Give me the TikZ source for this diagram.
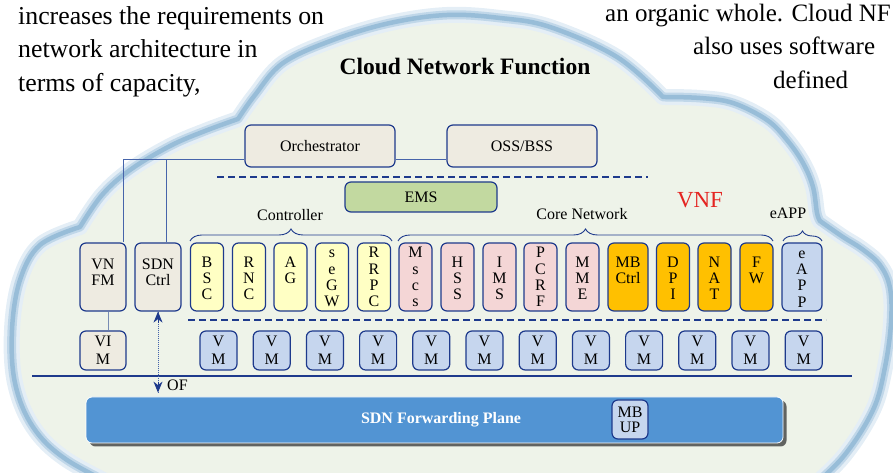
\documentclass[tikz,border=0pt]{standalone}
\usepackage{fontspec}
\setmainfont{Liberation Serif}
\usetikzlibrary{decorations.pathreplacing,shadows,arrows.meta,calc}

\definecolor{navy}{RGB}{30,58,140}
\definecolor{linkblue}{RGB}{70,100,170}
\definecolor{vimlink}{RGB}{120,140,180}
\definecolor{cloudfill}{RGB}{238,243,233}
\definecolor{glowA}{RGB}{228,238,246}
\definecolor{glowB}{RGB}{192,215,233}
\definecolor{glowC}{RGB}{152,189,216}
\definecolor{beige}{RGB}{238,235,225}
\definecolor{lyellow}{RGB}{255,255,196}
\definecolor{lpink}{RGB}{244,214,214}
\definecolor{orangeF}{RGB}{255,192,0}
\definecolor{lblue}{RGB}{198,214,238}
\definecolor{emsgreen}{RGB}{194,217,160}
\definecolor{fwdblue}{RGB}{82,148,211}
\definecolor{vnfred}{RGB}{228,36,33}

% one function box with its stacked label: name, x, width, fill, label drop, text
\newcommand\fnbox[6]{%
  \node[vbox, minimum width=#3, fill=#4] (#1) at (#2,196) {};
  \node[btext, anchor=north] (#1t) at ([yshift=-#5]#1.north) {\vphantom{M}#6};
}

\begin{document}
\begin{tikzpicture}[x=1pt,y=1pt,
  fbox/.style={draw=navy, line width=1.2pt, rounded corners=6pt, inner sep=0pt},
  vbox/.style={fbox, minimum height=68pt},
  vmbox/.style={fbox, fill=lblue, minimum width=37pt, minimum height=39pt,
                align=center, font=\fontsize{16}{17.5}\selectfont},
  btext/.style={align=center, inner sep=0pt, font=\fontsize{16}{16.2}\selectfont},
  lbl/.style={font=\fontsize{16}{18}\selectfont, inner sep=0pt},
  link/.style={draw=linkblue, line width=1pt},
  sep/.style={draw=navy, line width=1.6pt, dash pattern=on 7pt off 4pt},
  grp/.style={draw=navy, line width=0.9pt, decorate,
              decoration={brace, amplitude=#1}},
  grp/.default=12pt,
  para/.style={font=\fontsize{25}{30}\selectfont, inner sep=0pt, anchor=base west},
  paraL/.style={para, font=\fontsize{25.8}{30}\selectfont},
  oftip/.style={draw=navy, line width=1pt, solid, -{Stealth[length=11pt,width=9pt,inset=3.5pt]}},
]
\useasboundingbox (0,0) rectangle (893,473);

% ---- cloud ----
\begin{scope}
\clip (0,0) rectangle (893,473);
\path[fill=cloudfill, line join=round,
      postaction={draw=glowA, line width=16pt},
      postaction={draw=glowB, line width=9pt},
      postaction={draw=glowC, line width=4.5pt}]
  plot[smooth, tension=0.6] coordinates {(130,-20) (67,13) (33,46) (15,90) (12,143) (20,193) (40,228) (80,246)}
  -- plot[smooth, tension=0.6] coordinates {(80,246) (102,278) (130,303) (170,327) (205,342) (238,354)}
  -- plot[smooth, tension=0.6] coordinates {(238,354) (255,378) (283,410) (333,433) (390,450) (447,458) (500,455) (550,446) (617,416) (663,376)}
  -- plot[smooth, tension=0.6] coordinates {(663,376) (700,375) (733,370) (767,353) (787,333) (803,310) (813,286) (817,260) (820,252)}
  -- plot[smooth, tension=0.6] coordinates {(820,252) (843,236) (862,224) (880,208) (890,185) (891,150) (885,106) (873,63) (843,16) (805,-20)}
  -- cycle;
\end{scope}

% ---- surrounding text ----
\node[paraL] (l1) at (18,448) {increases the requirements on};
\node[paraL] (l2) at (18,415) {network architecture in};
\node[paraL] (l3) at (18,381) {terms of capacity,};
\node[para] (r1) at (605,451) {an organic whole. Cloud NF};
\node[para] (r2) at (693,418) {also uses software};
\node[para] (r3) at (773,384) {defined};

\node[font=\fontsize{23.5}{26}\selectfont\bfseries, anchor=base, inner sep=0pt]
  (title) at (465,398) {Cloud Network Function};

% ---- management layer ----
\node[fbox, fill=beige, minimum width=150pt, minimum height=42pt, lbl] (orch) at (320,327) {Orchestrator};
\node[fbox, fill=beige, minimum width=150pt, minimum height=42pt, lbl] (oss) at (522,327) {OSS/BSS};
\coordinate (bus) at ([yshift=-14pt]orch.west);
\draw[link] ([yshift=-14pt]orch.east) -- ([yshift=-14pt]oss.west);

\coordinate (d1a) at (217,296);
\coordinate (d1b) at (648,296);
\draw[sep] (d1a) -- (d1b);

\node[fbox, fill=emsgreen, minimum width=152pt, minimum height=30pt, lbl] (ems) at (421,276) {EMS};

% ---- function boxes ----
\fnbox{vnfm}{103}{46pt}{beige}{16pt}{VN\\FM}
\fnbox{sdn}{158}{46pt}{beige}{16pt}{SDN\\Ctrl}
\fnbox{bsc}{207}{33pt}{lyellow}{14.5pt}{B\\S\\C}
\fnbox{rnc}{249}{33pt}{lyellow}{14.5pt}{R\\N\\C}
\fnbox{ag}{290.5}{33pt}{lyellow}{14.5pt}{A\\G}
\fnbox{segw}{332}{33pt}{lyellow}{4.8pt}{s\\e\\G\\W}
\fnbox{rrpc}{374}{33pt}{lyellow}{4.8pt}{R\\R\\P\\C}
\fnbox{mscs}{415.5}{33pt}{lpink}{4.8pt}{M\\s\\c\\s}
\fnbox{hss}{457.5}{33pt}{lpink}{14.5pt}{H\\S\\S}
\fnbox{ims}{499.5}{33pt}{lpink}{14.5pt}{I\\M\\S}
\fnbox{pcrf}{540.5}{33pt}{lpink}{4.8pt}{P\\C\\R\\F}
\fnbox{mme}{582.5}{33pt}{lpink}{14.5pt}{M\\M\\E}
\fnbox{mbctrl}{628}{40pt}{orangeF}{14.5pt}{MB\\Ctrl}
\fnbox{dpi}{673}{33pt}{orangeF}{14.5pt}{D\\P\\I}
\fnbox{nat}{714.5}{33pt}{orangeF}{14.5pt}{N\\A\\T}
\fnbox{fw}{756.5}{33pt}{orangeF}{14.5pt}{F\\W}
\fnbox{eapp}{802}{40pt}{lblue}{5.5pt}{e\\A\\P\\P}

% orchestrator bus down to VNFM and SDN controller
\coordinate (vnfmtop) at ([xshift=20pt]vnfm.north);
\coordinate (sdntop) at ([xshift=8pt]sdn.north);
\draw[link] (bus) -| (vnfmtop);
\draw[link] (sdntop) -- (sdntop |- bus);

% group braces
\draw[grp] (190,232) -- (392,232);
\draw[grp] (398,232) -- (773,232);
\draw[grp=10pt] (783,232) -- (822,232);
\node[lbl, anchor=base] (ctrllbl) at (290,252) {Controller};
\node[lbl, anchor=base] (corelbl) at (582,253) {Core Network};
\node[lbl, anchor=base] (eapplbl) at (788,254) {eAPP};
\node[font=\fontsize{23}{26}\selectfont, text=vnfred, anchor=base, inner sep=0pt] (vnflbl) at (700,265) {VNF};

\coordinate (d2a) at (188,153);
\coordinate (d2b) at (826,153);
\draw[sep] (d2a) -- (d2b);

% ---- virtualisation layer ----
\node[vmbox, fill=beige, minimum width=46pt] (vim) at (103,122.5) {VI\\M};
\draw[draw=vimlink, line width=1pt] ([xshift=5pt]vnfm.south) -- ([xshift=5pt]vim.north);
\foreach \i in {0,...,11}
  \node[vmbox] (vm\i) at ({218.5+53.2*\i},122.5) {V\\M};

\coordinate (hla) at (32,97);
\coordinate (hlb) at (852,97);
\draw[draw=navy, line width=1.6pt] (hla) -- (hlb);

% ---- forwarding plane ----
\node[draw=white, line width=0.8pt, rounded corners=6pt, fill=fwdblue,
      minimum width=697pt, minimum height=46pt, inner sep=0pt,
      drop shadow={shadow xshift=3.5pt, shadow yshift=-3.5pt, opacity=0.75, fill=black!80}]
  (fwd) at (434.5,53) {};
\node[font=\fontsize{16}{18}\selectfont\bfseries, text=white, anchor=base, inner sep=0pt]
  (fwdlbl) at (441,49.5) {SDN Forwarding Plane};
\node[fbox, fill=lblue, minimum width=36pt, minimum height=39pt, align=center,
      font=\fontsize{16}{15}\selectfont] (mbup) at (630,53.5) {MB\\UP};

% OpenFlow link between controller and forwarding plane
\coordinate (ofend) at ([yshift=4pt]sdn.south |- fwd.north);
\draw[draw=linkblue, line width=1pt, densely dotted] (sdn.south) -- (ofend);
\draw[oftip] ([yshift=-11pt]sdn.south) -- (sdn.south);
\draw[oftip] ([yshift=11pt]ofend) -- (ofend);
\node[lbl, anchor=base west] (oflbl) at (167,82) {OF};
\end{tikzpicture}
\end{document}
